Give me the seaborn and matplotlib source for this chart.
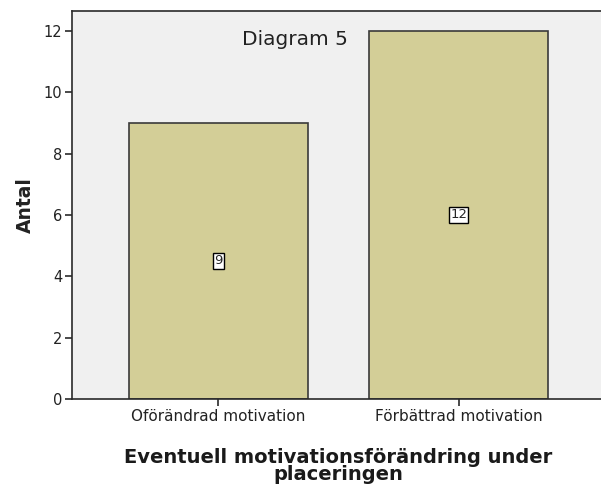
import pandas as pd
import matplotlib
matplotlib.use('Agg')
import matplotlib.pyplot as plt
import seaborn as sns

categories = ['Oförändrad motivation', 'Förbättrad motivation']
counts = [9, 12]
yticks = [0, 2, 4, 6, 8, 10, 12]

data = pd.DataFrame({'kategori': categories, 'antal': counts})

sns.set_style('white')
plt.rcParams['font.family'] = ['DejaVu Sans']

fig = plt.figure(figsize=(6.01, 4.84), dpi=100)
ax = fig.add_axes([0.1198, 0.1756, 0.887, 0.8017])
ax.set_facecolor('#f0f0f0')

sns.barplot(x='kategori', y='antal', data=data, color='#d3ce97', saturation=1,
            width=0.745, edgecolor='#3a3a3a', linewidth=1.2, ax=ax)

# value labels in small white boxes at mid-height
for i, v in enumerate(counts):
    ax.text(i, v / 2, str(v), ha='center', va='center', fontsize=9.5,
            bbox=dict(boxstyle='square,pad=0.08', fc='white', ec='black', lw=1.0))

ax.set_xlim(-0.61, 1.61)
ax.set_ylim(0, 12.65)
ax.set_yticks(yticks)
for s in ['left', 'bottom', 'top']:
    ax.spines[s].set_color('#2a2a2a')
    ax.spines[s].set_linewidth(1.2)
ax.spines['right'].set_visible(False)
ax.tick_params(axis='both', direction='out', length=5, width=1.2, color='#2a2a2a',
               labelsize=10.5, labelcolor='#222222', left=True, bottom=True, pad=2)
ax.tick_params(axis='x', labelsize=11)

ax.text(0.32, 11.72, 'Diagram 5', ha='center', va='center', fontsize=14.5, color='#222222')

ax.set_xlabel('')
ax.set_ylabel('Antal', fontsize=13.5, fontweight='bold', labelpad=6, color='#222222')
fig.text(0.563, 0.0, 'Eventuell motivationsförändring under\nplaceringen', ha='center',
         va='bottom', fontsize=14, fontweight='bold', linespacing=0.84, color='#1a1a1a')

plt.savefig('out.png', dpi=100)
